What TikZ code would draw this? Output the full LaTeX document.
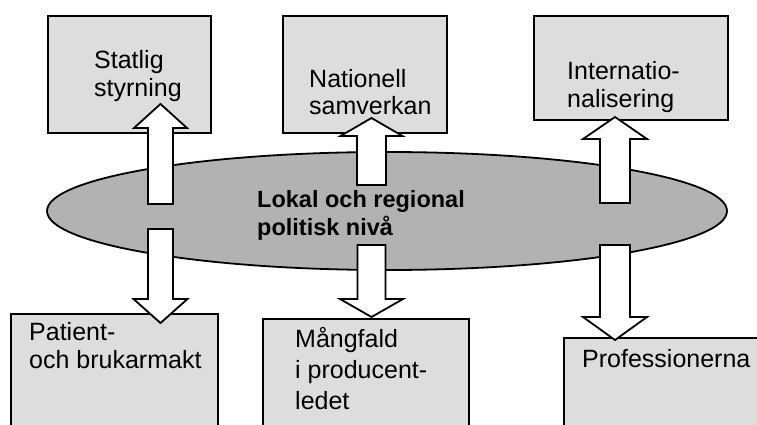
\documentclass[tikz,border=0pt]{standalone}
\usepackage{fontspec}
\setmainfont{Liberation Sans}
\usetikzlibrary{calc}

\definecolor{boxgray}{gray}{0.867}
\definecolor{ellgray}{gray}{0.70}

\tikzset{
    box/.style={draw, line width=1.8pt, fill=boxgray, anchor=north west, inner sep=0pt},
    lbl/.style={anchor=base west, align=left, inner sep=0pt, font=\fontsize{25}{28}\selectfont},
    barrow/.style={draw, line width=1.8pt, fill=white, line join=miter}
}

% block arrow: centre x, tail y, head base y, tip y, half shaft, half head
\newcommand{\blockarrow}[6]{%
    \draw[barrow] (#1-#5,#2) -- (#1-#5,#3) -- (#1-#6,#3) -- (#1,#4)
        -- (#1+#6,#3) -- (#1+#5,#3) -- (#1+#5,#2) -- cycle;}

\begin{document}
\begin{tikzpicture}[x=1pt, y=-1pt]
    \useasboundingbox (0,0) rectangle (757,425);

    % centre
    \draw[line width=1.8pt, fill=ellgray] (387,211) ellipse [x radius=340, y radius=59];
    \node[lbl, font=\bfseries\fontsize{23.5}{28}\selectfont] (niva) at (257,235) {Lokal och regional\\politisk niv\aa};

    % upper boxes
    \node[box, minimum width=163, minimum height=117] (statlig) at (47,15) {};
    \node[box, minimum width=164, minimum height=117] (nationell) at (282,15) {};
    \node[box, minimum width=194, minimum height=104] (internat) at (533,15) {};

    \node[lbl] (statligtxt) at (94,97) {Statlig\\styrning};
    \node[lbl, font=\fontsize{25}{27}\selectfont] (nationelltxt) at (309,115) {Nationell\\samverkan};
    \node[lbl] (internattxt) at (567,107) {Internatio-\\nalisering};

    % lower boxes
    \node[box, minimum width=207, minimum height=140] (patient) at (10,313) {};
    \node[box, minimum width=206, minimum height=140] (mangfald) at (262,318) {};
    \node[box, minimum width=220, minimum height=120] (prof) at (563,337) {};

    \node[lbl] (patienttxt) at (29,368) {Patient-\\och brukarmakt};
    \node[lbl, font=\fontsize{25}{31}\selectfont] (mangfaldtxt) at (295,409) {M\aa ngfald\\i producent-\\ledet};
    \node[lbl] (proftxt) at (582,367) {Professionerna};

    % arrows up
    \blockarrow{160.5}{204}{128}{104}{12.5}{26.5}
    \blockarrow{371.5}{185}{136}{118}{14.5}{31}
    \blockarrow{615}{203}{139}{117}{15}{32}

    % arrows down
    \blockarrow{160.5}{229}{299}{323}{12.5}{27}
    \blockarrow{371.5}{245}{299}{317}{14}{31.5}
    \blockarrow{615}{245}{317}{340}{15}{32}

\end{tikzpicture}
\end{document}
